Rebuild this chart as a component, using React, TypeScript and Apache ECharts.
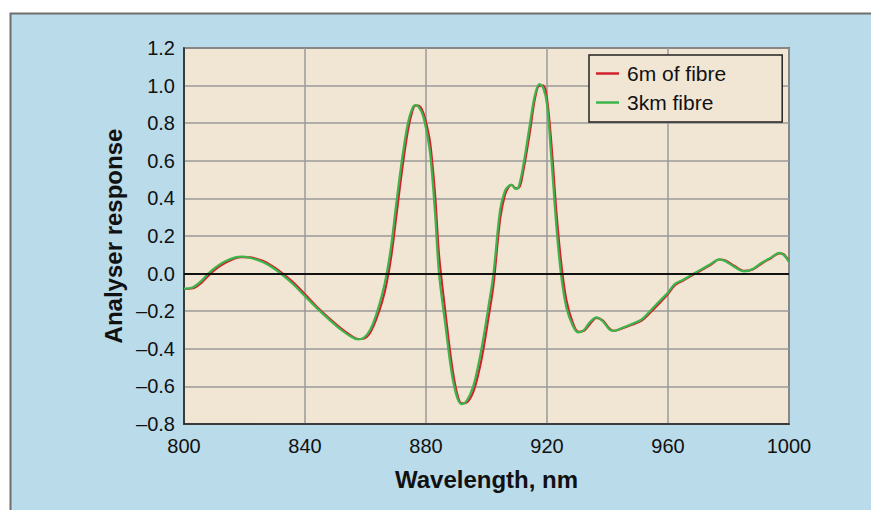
import React, { useEffect, useRef } from "react";
import * as echarts from "echarts";

const wavelengths = [
  800, 803, 806, 808, 811, 814, 817, 819, 822, 826, 829, 832, 836, 840, 844, 848, 852, 855, 857.5, 859.5,
  861.5, 863.5, 865.5, 867, 868.5, 870, 872, 874, 875.5, 876.5, 877.5, 879, 880.5, 881.5, 883, 884.3,
  886.3, 888.5, 890.3, 891.8, 893.5, 895.6, 897.5, 899, 900.7, 902.3, 904.5, 906.1, 907.3, 908.3, 909.6,
  910.6, 912.2, 914.4, 916, 917.5, 918.8, 920, 921.5, 923.1, 924.6, 926.4, 928.6, 930.4, 932.2, 934.2,
  936.4, 938.5, 940.5, 942, 945, 948, 951.3, 954, 957, 960, 962.3, 965, 968.4, 971, 974, 977, 979, 982,
  985.2, 988, 991, 994, 996.8, 998.3, 1000,
];

const fibre3km = [
  -0.08, -0.072, -0.035, 0.0, 0.04, 0.068, 0.086, 0.09, 0.083, 0.062, 0.035, 0.0, -0.055, -0.12, -0.185,
  -0.245, -0.3, -0.333, -0.35, -0.34, -0.3, -0.22, -0.11, 0.0, 0.15, 0.35, 0.6, 0.8, 0.88, 0.896, 0.888,
  0.84, 0.73, 0.62, 0.32, 0.0, -0.26, -0.53, -0.66, -0.694, -0.675, -0.6, -0.47, -0.34, -0.17, 0.0, 0.34,
  0.44, 0.465, 0.472, 0.45, 0.46, 0.58, 0.8, 0.95, 1.008, 0.985, 0.9, 0.6, 0.25, 0.0, -0.18, -0.28, -0.313,
  -0.3, -0.258, -0.233, -0.255, -0.295, -0.305, -0.288, -0.268, -0.243, -0.2, -0.15, -0.1, -0.055, -0.033,
  0.0, 0.022, 0.05, 0.076, 0.066, 0.035, 0.012, 0.025, 0.058, 0.085, 0.11, 0.098, 0.062,
];

const fibre6m = [
  -0.082, -0.078, -0.045, -0.012, 0.03, 0.06, 0.082, 0.088, 0.086, 0.068, 0.042, 0.008, -0.045, -0.11,
  -0.178, -0.238, -0.293, -0.328, -0.348, -0.345, -0.315, -0.245, -0.15, -0.05, 0.09, 0.28, 0.54, 0.76,
  0.865, 0.893, 0.893, 0.86, 0.77, 0.68, 0.42, 0.1, -0.19, -0.48, -0.64, -0.69, -0.685, -0.63, -0.52, -0.4,
  -0.23, -0.06, 0.29, 0.42, 0.46, 0.472, 0.455, 0.455, 0.55, 0.76, 0.93, 1.0, 1.0, 0.93, 0.68, 0.33, 0.07,
  -0.14, -0.265, -0.31, -0.305, -0.268, -0.235, -0.25, -0.29, -0.305, -0.29, -0.272, -0.25, -0.21, -0.16,
  -0.108, -0.062, -0.037, -0.005, 0.018, 0.045, 0.075, 0.07, 0.04, 0.014, 0.022, 0.054, 0.082, 0.108,
  0.102, 0.065,
];

const yTickLabels = ["–0.8", "–0.6", "–0.4", "–0.2", "0.0", "0.2", "0.4", "0.6", "0.8", "1.0", "1.2"];
const xTickLabels = ["800", "840", "880", "920", "960", "1000"];
const seriesNames = ["6m of fibre", "3km fibre"];

const FONT = "'Liberation Sans', Arial, Helvetica, sans-serif";

export default function App() {
  const ref = useRef<HTMLDivElement>(null);
  useEffect(() => {
    if (!ref.current) return;
    const chart = echarts.init(ref.current, undefined, { renderer: "svg" });
    const pair = (vals: number[]) => wavelengths.map((w, i) => [w, vals[i]]);
    chart.setOption({
      animation: false,
      backgroundColor: "#ffffff",
      textStyle: { fontFamily: FONT },
      graphic: [
        {
          type: "rect",
          z: -10,
          shape: { x: 10.5, y: 13.5, width: 900, height: 600 },
          style: { fill: "#badbe9", stroke: "#6e6e6e", lineWidth: 2 },
          silent: true,
        },
      ],
      grid: {
        left: 184,
        top: 48,
        width: 605,
        height: 376,
        show: true,
        backgroundColor: "#f1e6d4",
        borderColor: "#222222",
        borderWidth: 1.5,
      },
      legend: {
        orient: "vertical",
        left: 589,
        top: 55,
        icon: "rect",
        itemWidth: 23,
        itemHeight: 2.5,
        itemGap: 8,
        padding: [8, 56, 9, 7],
        backgroundColor: "#f1e6d4",
        borderColor: "#222222",
        borderWidth: 1.5,
        borderRadius: 0,
        textStyle: { fontSize: 21, color: "#111111", fontFamily: FONT, lineHeight: 21, padding: [0, 0, 0, 3] },
        data: seriesNames,
      },
      xAxis: {
        type: "value",
        min: 800,
        max: 1000,
        interval: 40,
        name: "Wavelength, nm",
        nameLocation: "middle",
        nameGap: 43,
        nameTextStyle: { fontSize: 24, fontWeight: "bold", color: "#111111", fontFamily: FONT },
        axisLine: { onZero: false, show: true, lineStyle: { color: "#222222", width: 1.5 } },
        axisTick: { show: false },
        axisLabel: {
          fontSize: 20,
          color: "#111111",
          margin: 12,
          fontFamily: FONT,
          formatter: (v: number) => xTickLabels[Math.round((v - 800) / 40)] ?? "",
        },
        splitLine: { show: true, lineStyle: { color: "#9a9a9a", width: 1.5 } },
      },
      yAxis: {
        type: "value",
        min: -0.8,
        max: 1.2,
        interval: 0.2,
        name: "Analyser response",
        nameLocation: "middle",
        nameGap: 58,
        nameRotate: 90,
        nameTextStyle: { fontSize: 24, fontWeight: "bold", color: "#111111", fontFamily: FONT },
        axisLine: { show: true, lineStyle: { color: "#222222", width: 1.5 } },
        axisTick: { show: false },
        axisLabel: {
          fontSize: 20,
          color: "#111111",
          margin: 9,
          fontFamily: FONT,
          formatter: (v: number) => yTickLabels[Math.round((v + 0.8) / 0.2)] ?? "",
        },
        splitLine: { show: true, lineStyle: { color: "#9a9a9a", width: 1.5 } },
      },
      series: [
        {
          name: seriesNames[0],
          type: "line",
          data: pair(fibre6m),
          symbol: "none",
          smooth: 0.35,
          lineStyle: { color: "#d2202f", width: 2.2 },
          itemStyle: { color: "#d2202f" },
          markLine: {
            silent: true,
            symbol: "none",
            label: { show: false },
            lineStyle: { color: "#111111", width: 2, type: "solid" },
            data: [{ yAxis: 0 }],
          },
          z: 2,
        },
        {
          name: seriesNames[1],
          type: "line",
          data: pair(fibre3km),
          symbol: "none",
          smooth: 0.35,
          lineStyle: { color: "#3cb54a", width: 2.2 },
          itemStyle: { color: "#3cb54a" },
          z: 3,
        },
      ],
    });
    return () => chart.dispose();
  }, []);
  return <div ref={ref} style={{ position: "absolute", left: 0, top: 0, width: 871, height: 510 }} />;
}
